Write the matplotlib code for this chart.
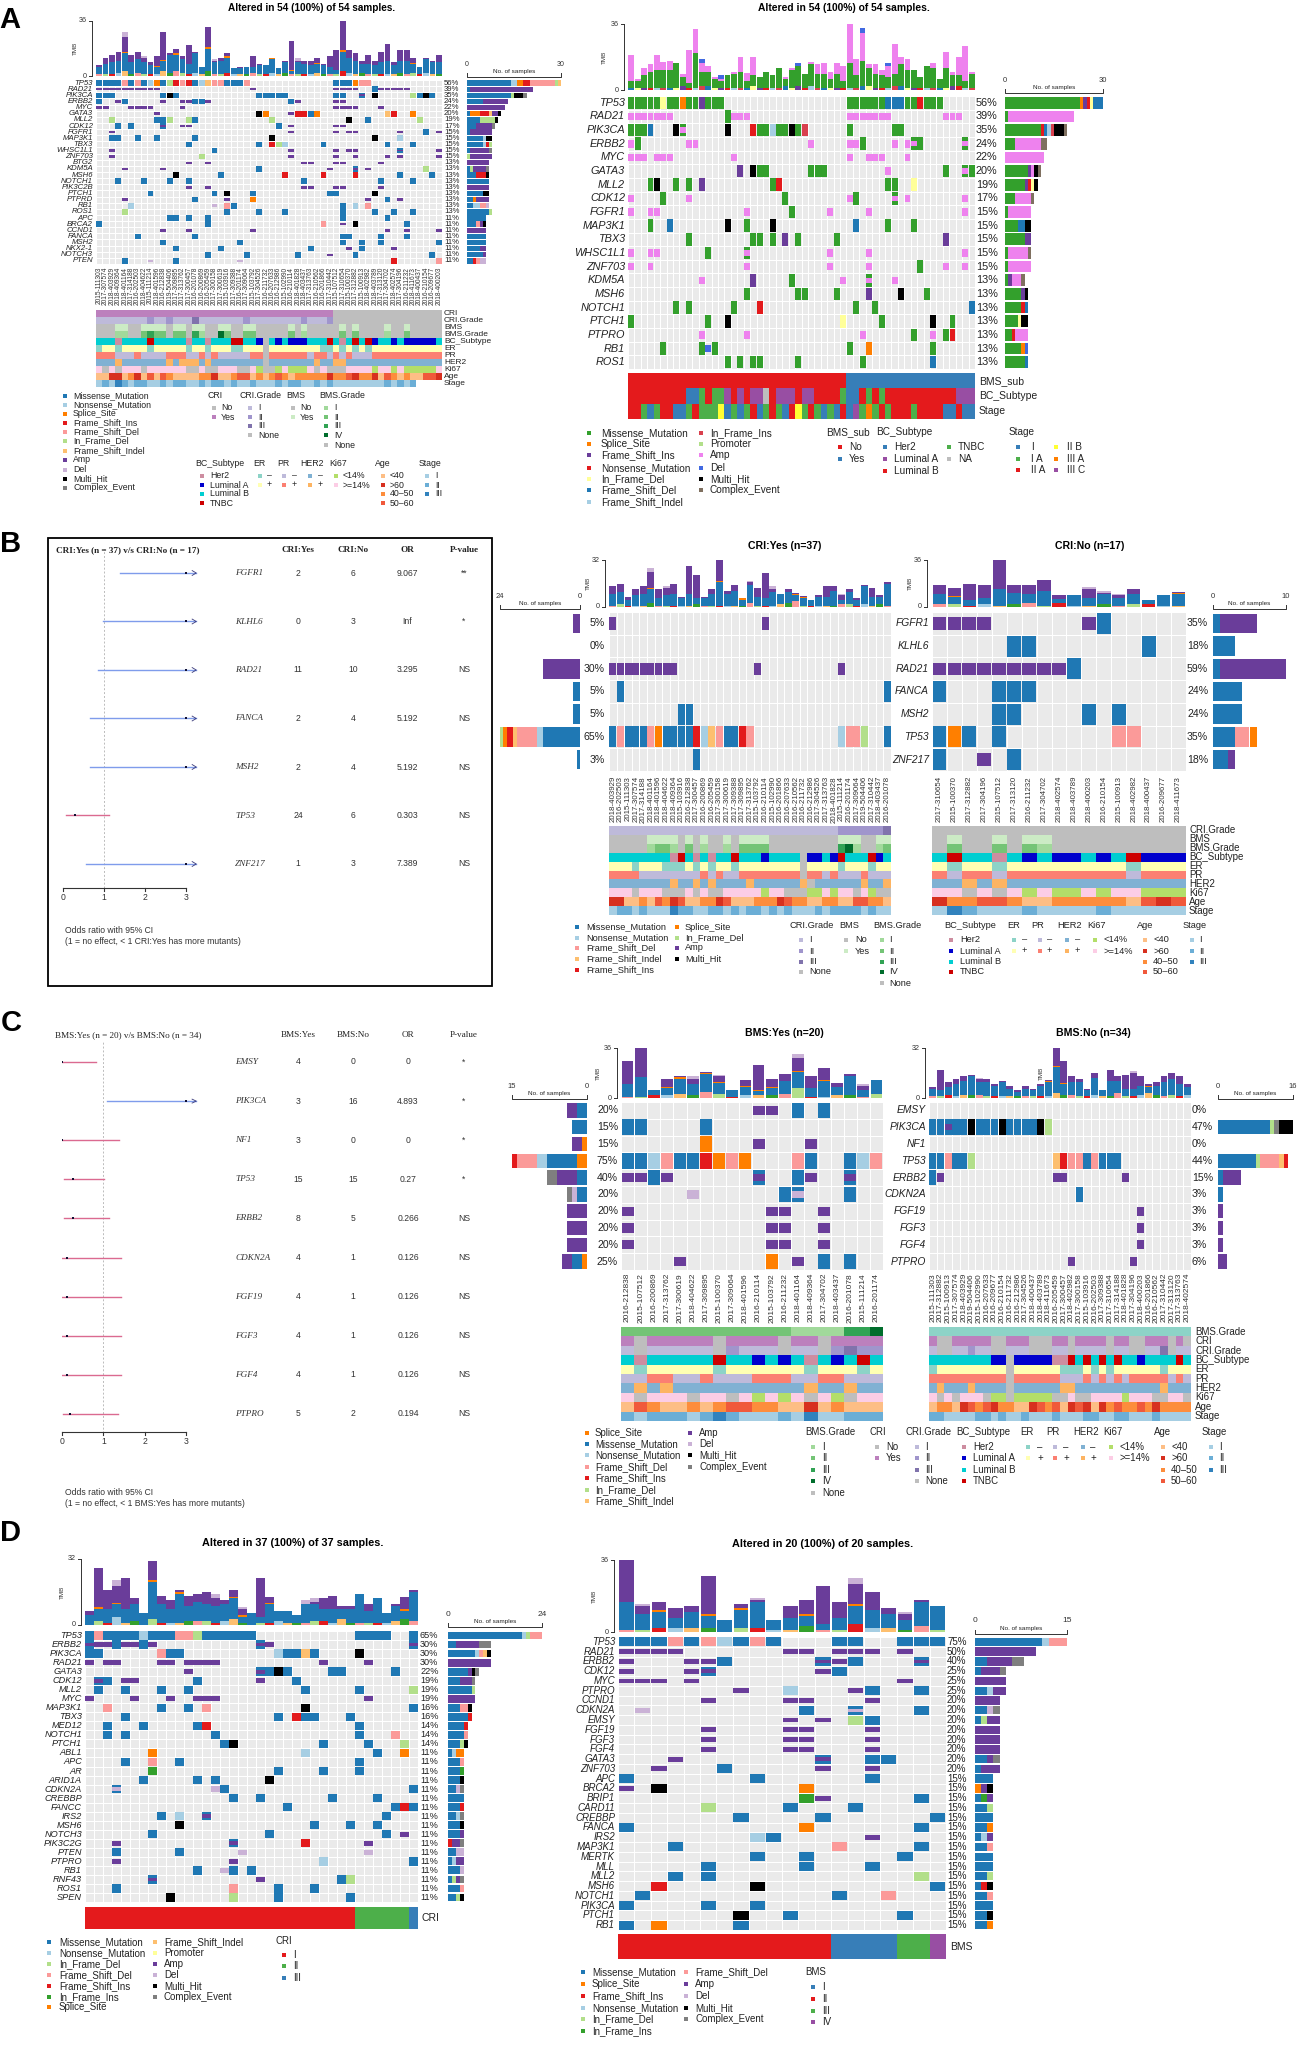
import re
import matplotlib
matplotlib.use('Agg')
import matplotlib.pyplot as plt
import numpy as np
from matplotlib.colors import ListedColormap
from matplotlib.patches import Rectangle

W, H = 1300, 2060
plt.rcParams['font.family'] = ['Liberation Sans', 'DejaVu Sans']

# ---------- palettes ----------
PAL = dict(m='#1F78B4', n='#A6CEE3', s='#FF7F00', i='#E31A1C', d='#FB9A99', f='#B2DF8A', x='#FDBF6F',
           a='#6A3D9A', e='#CAB2D6', h='#000000', c='#7F7F7F', g='#33A02C', p='#FFFF99')
PAL2 = dict(m='#33A02C', s='#FF7F00', i='#6A3D9A', n='#E31A1C', f='#FFFF99', d='#1F78B4', x='#A6CEE3',
            g='#D9404E', p='#B2DF8A', a='#EE82EE', e='#4169E1', h='#000000', c='#7F7060')
LBL = dict(m='Missense_Mutation', n='Nonsense_Mutation', s='Splice_Site', i='Frame_Shift_Ins', d='Frame_Shift_Del',
           f='In_Frame_Del', x='Frame_Shift_Indel', a='Amp', e='Del', h='Multi_Hit', c='Complex_Event',
           g='In_Frame_Ins', p='Promoter')
GREY = '#BEBEBE'
ANN = {
    'CRI': dict(Y='#BC80BD', N=GREY),
    'CRI.Grade': dict(a='#BEBADA', b='#A095CC', c='#8073AC', n=GREY),
    'BMS': dict(y='#CCEBC5', n=GREY),
    'BMS.Grade': dict(a='#A1D99B', b='#74C476', c='#31A354', d='#006D2C', n=GREY, q='#8DD3C7'),
    'BC_Subtype': dict(h='#CD8DA0', a='#0000CD', l='#00CED1', t='#CD0000', n=GREY),
    'ER': dict(m='#8DD3C7', p='#FFFFB3', n=GREY),
    'PR': dict(m='#BEBADA', p='#FB8072', n=GREY),
    'HER2': dict(m='#80B1D3', p='#FDB462', n=GREY),
    'Ki67': dict(l='#B3DE69', h='#FCCDE5', n=GREY),
    'Age': dict(y='#FDBE85', o='#FD8D3C', f='#F0593B', r='#D7301F'),
    'Stage': dict(a='#A6CEE3', b='#6BAED6', c='#3182BD'),
}
S3 = dict(r='#E41A1C', b='#377EB8', g='#4DAF4A', p='#984EA3', y='#FFFF33', o='#FF7F00', e='#BDBDBD')

# ---------- A left ----------
A1_genes = ['TP53','RAD21','PIK3CA','ERBB2','MYC','GATA3','MLL2','CDK12','FGFR1','MAP3K1','TBX3','WHSC1L1','ZNF703','BTG2','KDM5A','MSH6','NOTCH1','PIK3C2B','PTCH1','PTPRD','RB1','ROS1','APC','BRCA2','CCND1','FANCA','MSH2','NKX2-1','NOTCH3','PTEN']
A1_pct = [56,39,35,24,22,20,19,17,15,15,15,15,15,13,13,13,13,13,13,13,13,13,11,11,11,11,11,11,11,11]
A1_rows = ['m0-3 d4 m5 d6 m7 n8 s9 m10 f11 i12 d13 i14 m15 n16 x17 d18-19 m20-22 d23 m37-39 s40 d41-42',
 'a0-9 a24 a37-40 m43 a44-48','m0-2 m10 h11 m12 m25-29 m37-38 A41 h43 f49 m50 h51 m52',
 'm0 a3 m4 a10 a13-14 m15-16 a17 m30 a31 a37-38','a0-1 a5-8 a13 a37-40 a44',
 'a9 h25 s26 a30 i31-32 m33 s34 x45 i46 s49','f2 m9-10 f11 f14 m15 f27 h39 m42 f50','m3 m5 A10 a13-14 m28 a30 a37-38',
 'a2 a30 a37 a39-40 a47 m51 a53','m2-3 m6 m9 m15 h27 h43 n47','m14 m25 i27 f28 n29 m35 m45 m49',
 'a2 m18 a30 a37 a39-40 A47 a53','a2 f16 a30 a37 a40 a45 a47 a53','a14 a17 a32-33 a37-38 a44',
 'a4 a10 m25 a36 A40 a42 f51','h12 m19 i29 i35 i40 m47 m52','m3 m7 m11 m14 m32 m44 m49','a14 a17 a32-33 a37-38 a44',
 'm8 m18 h20 m24 m36-37 h43','a4 m15 a20 s24 a42 m45 a47','n5 e18 d20 m21 m38 n40 d42','f4 m20 m25 m29 m38 m43 m46 m49',
 'm11-12 m14 m17 m38 m45','m0 m17 d35 a38 h40 m48','a10 a14 a24 a45 a48 a53','m6 m15 m38-39 m44 m48','m10 m22 m38 m41 m44 m53',
 'm12 m19 m33 a39 m41 a46','m17 m23 m31 a36 m40 m52','m4 e8 m12 e22 i46 d53']
A1_low = [1,1,1,2,3,1,2,1,1,1,3,2,3,2,1,2,1,3,1,1,2,1,1,1,2,1,1,2,1,2,1,1,1,1,2,1,1,1,3,2,1,2,1,1,1,1,1,2,1,2,1,2,1,1]
A1_mis = [5,7,8,8,12,8,9,8,6,5,7,12,11,9,7,13,5,15,8,9,10,4,4,5,4,6,6,9,4,7,2,8,7,6,6,6,5,3,13,10,9,6,7,6,8,9,6,8,9,6,5,9,8,8]
A1_amp = [1,4,5,6,10,5,5,3,2,6,18,1,3,2,12,1,0,13,1,2,2,0,1,0,7,1,0,0,0,1,19,1,2,3,3,1,7,13,23,5,5,2,6,3,7,11,2,7,7,3,0,1,1,5]
A1_del = [0,0,0,0,3,0,0,1,0,0,0,0,0,0,0,0,0,0,1,0,0,0,0,0,0,0,0,0,0,0,0,2,0,0,0,0,0,0,0,0,0,0,0,0,0,0,0,0,0,0,0,0,0,0]
A1_spl = [4,9,10,12,17,20,27,30,34,38,49]
A1_ids = ['2015-111303','2017-307574','2018-403929','2018-409364','2018-401164','2017-314188','2016-202503','2018-404622','2015-111214','2018-401596','2016-212838','2019-504406','2017-309895','2017-313762','2017-300457','2016-201078','2016-200869','2016-205459','2017-300158','2017-300619','2015-103916','2017-309388','2016-201174','2017-309064','2015-103792','2017-304526','2016-211732','2016-207633','2016-212986','2015-102990','2016-210114','2018-401828','2018-403437','2017-313763','2016-210562','2016-201866','2017-310442','2015-107512','2017-310654','2015-100370','2017-312882','2015-100913','2018-402982','2018-403789','2017-313120','2017-304702','2018-402574','2017-304196','2016-211232','2018-411673','2018-400437','2016-210154','2016-209677','2018-400203']
A1_ann = [('CRI','Y37 N17'),('CRI.Grade','a8 b1 a2 b1 a3 c1 a7 b1 a8 b1 a3 b1 n17'),
 ('BMS','n3 y2 n2 y4 n1 y2 n1 y2 n2 y2 n2 y2 n5 y1 n1 y1 n5 y1 n1 y1 n4 y1 n2 y1 n5'),
 ('BMS.Grade','n3 a2 n2 b1 c1 b2 n1 b2 n1 c1 a1 n2 d1 b1 n2 b2 n5 b1 n1 a1 n5 b1 n1 b1 n4 a1 n2 b1 n5'),
 ('BC_Subtype','l3 h1 l4 t1 l5 h1 l2 h1 l3 t2 l2 a1 n1 l1 a1 l1 a3 l3 t1 l1 h1 l1 t1 l1 t1 a1 l2 a1 l1 a5 l1'),
 ('ER','m1 p2 m1 p4 m1 p5 m1 p2 m1 p3 m2 p3 n1 p8 m2 p1 m1 p1 m1 p1 m1 p11'),
 ('PR','p3 m3 p1 m4 p3 m2 p1 m1 p1 m5 p2 n1 p6 m1 p2 m1 p1 m1 p1 m3 p11'),
 ('HER2','m3 p1 m7 p1 m1 p3 m1 p1 m8 n1 m7 p1 m2 p2 m15'),
 ('Ki67','h1 n1 h1 n1 h3 n1 h6 n2 h1 n2 h3 n2 h1 l1 n2 l1 h1 l3 h1 n1 h1 n3 h4 l1 h2 l1 h1 l5 h1'),
 ('Age','y2 r2 y1 o1 r1 y1 f1 y1 f1 o1 y4 o2 r1 y2 o1 f2 y1 o1 y1 o1 f1 o1 y1 o5 r1 o2 f1 r1 o2 r1 y1 f1 o1 y1 o1 y2 f2 r1'),
 ('Stage','a1 b1 a1 c1 b1 a1 b2 a2 b1 a1 b2 a2 b1 a1 b2 a1 b1 a2 b1 a3 b1 a1 b2 a2 b1 a1 b1 a8 b1 a1 b1 a1 b1')]

# ---------- A right ----------
A2_genes = ['TP53','RAD21','PIK3CA','ERBB2','MYC','GATA3','MLL2','CDK12','FGFR1','MAP3K1','TBX3','WHSC1L1','ZNF703','KDM5A','MSH6','NOTCH1','PTCH1','PTPRO','RB1','ROS1']
A2_pct = [56,39,35,24,22,20,19,17,15,15,15,15,15,13,13,13,13,13,13,13]
A2_rows = ['m0-4 f5 m6-7 s8 m9-10 i11 m12-14 m34-39 d40-42 m43-44 n45 m46-48','a0-6 m15 a16-18 a34-40 a49-51',
 'm0-2 d3 h7 A8 h15 n19 m20-21 x22 m23-24 h25 m26 g27 m34 m41-42','a0 m1 a9-10 a28 a34-35 m36 a41 a43 A44 m45 A52',
 'a0-2 a4-6 a16 a34 a37-39 a43','i17 h19 m20-21 m28-30 a40 m49 A52 m53','m3 h4 m7 m9 i11 m22 n23 m40-41 f44',
 'a0 m5 a9 m24 a34 m35 A41 a43 a52','a0 a3-4 a18 m25 a31 a37 a52','m3 d6 h15 m18 h22 d35 m40 m44','m9 m19-20 m22 i24 m26 m32 i49',
 'a0 a3-4 m12 A18 a31 a37 a52','a0 a3 a18 a31 a37 m45 a49 a52','a11 i19 m25 a33 A37 a41','m18 m26-27 m32 i37 h42 m46',
 'm7 m9 m16 n20 m35 m38 d53','m0 m12 h15 f33 m39 h47 m50','a11 a18 a36 m44 a47 m49 n50','m5 m11 e12 m13 m34 s37 m47','m15 m17 m19-20 m26 m36 d47']
A2_low = [1,1,1,1,1,1,1,1,2,1,1,2,2,1,1,1,1,1,1,2,1,1,1,1,2,1,2,1,2,1,1,1,1,1,1,1,2,2,1,1,1,2,2,1,1,1,1,1,1,1,2,2,1,1]
A2_mis = [4,4,7,9,10,10,10,14,5,3,19,8,8,5,4,7,8,9,4,6,6,9,7,11,4,10,11,8,12,8,8,5,8,4,14,7,14,10,8,7,6,7,12,10,10,6,12,11,5,11,6,6,4,8]
A2_amp = [14,1,4,4,8,4,5,0,2,18,13,5,3,1,1,0,1,8,4,10,0,0,0,0,1,1,0,0,1,5,6,4,6,8,22,9,15,2,5,3,6,16,4,6,0,0,0,3,0,9,2,10,19,1]
A2_del = [0,0,0,0,0,0,0,0,0,0,0,2,0,0,2,0,0,0,0,0,0,0,0,0,0,0,2,0,0,0,0,0,0,0,0,0,3,0,0,0,2,0,0,0,0,0,0,0,0,0,0,0,0,0]
A2_ann = [('BMS_sub','r34 b20'),
 ('BC_Subtype','r9 b2 g1 r1 g2 p1 r1 p1 r1 p2 e1 r1 p3 r1 p2 r4 g1 b2 r1 g1 r1 g1 r11 p3'),
 ('Stage','r2 g1 b1 g1 r2 b2 g1 r1 g3 y1 b1 g1 b1 g1 r1 b1 g1 r1 g1 b1 r1 y1 g1 r1 g1 b1 g1 b1 r1 b1 p1 g1 o1 g1 r1 g1 r3 g1 r4 b2 r1 b2')]

# ---------- B ----------
B1_genes = ['FGFR1','KLHL6','RAD21','FANCA','MSH2','TP53','ZNF217']
B_pct1 = [5,0,30,5,5,65,3]
B_pct2 = [35,18,59,24,24,35,18]
B1_rows = ['a0 a20','','a0-8 a19 a30','m1 m36','m9-10','m0 d1 m2-4 d5 s6 m7-10 i11 n12 x13 d14 m15-16 i17 d18 n30 d31-32 f33 m36','m11']
B2_rows = ['a0-3 a10 m11','m5-6 m14','a0-8 m9','m0 m4-6','m4-5 m10 m12','m0 s1 m2 m4 d12-13','m0 a3 m5']
B1_low = [1,2,1,1,1,3,1,1,1,1,1,2,1,1,1,1,1,1,3,1,1,1,2,3,4,1,1,1,1,1,2,2,1,2,1,2,1]
B1_mis = [8,8,4,7,8,9,5,7,8,5,8,4,5,8,16,8,10,4,12,6,5,9,7,7,4,5,4,6,6,10,3,8,4,12,6,5,15]
B1_amp = [5,6,2,4,5,11,6,5,7,1,19,16,1,3,14,2,4,0,2,6,17,2,0,2,1,1,0,1,7,3,3,2,1,1,6,1,1]
B1_del = [0,0,0,0,0,3,0,1,0,0,0,0,0,0,0,0,0,0,1,0,0,2,0,0,0,0,0,0,0,0,1,0,0,0,0,0,0]
B1_spl = [5,14,17,24,25]
B1_ids = ['2018-403929','2016-202503','2015-111303','2017-307574','2017-314188','2018-401164','2018-401596','2018-404622','2018-409364','2015-103916','2016-212838','2017-300457','2016-200869','2016-205459','2017-300158','2017-300619','2017-309388','2017-309895','2017-313762','2015-103792','2016-210114','2015-102990','2016-201866','2016-207633','2016-210562','2016-211732','2016-212986','2017-304526','2017-313763','2018-401828','2015-111214','2016-201174','2017-309064','2019-504406','2017-310442','2018-403437','2016-201078']
B2_low = [2,2,1,2,1,2,3,1,3,1,1,2,1,2,2,1,1]
B2_mis = [8,6,4,5,13,9,7,11,3,8,6,8,6,8,3,8,9]
B2_amp = [7,6,13,10,22,6,7,9,3,0,7,1,2,4,0,0,1]
B2_del = [0,0,0,0,0,0,0,0,0,0,1,1,1,0,0,0,0]
B2_spl = [1,16]
B2_ids = ['2017-310654','2015-100370','2017-312882','2017-304196','2015-107512','2017-313120','2016-211232','2017-304702','2018-402574','2018-403789','2018-400203','2016-210154','2015-100913','2018-402982','2018-400437','2016-209677','2018-411673']
B1_ann = [('CRI.Grade','a30 b6 c1'),('BMS','n5 y4 n1 y1 n1 y1 n2 y1 n1 y4 n9 y3 n2 y2'),
 ('BMS.Grade','n5 a1 b2 a1 n1 b1 n1 a1 n2 a1 n1 b4 n9 c1 d1 a1 n2 a1 b1'),
 ('BC_Subtype','l8 h1 t1 l1 h1 l1 h1 l2 t1 l3 a1 l4 n1 a2 l1 a1 t1 l3 t1 a1 l1'),
 ('ER','p3 m1 p3 m3 p1 m1 p1 m1 p2 m1 p5 p3 n1 p4 m1 p3 m1 p2'),
 ('PR','p4 m8 p1 m1 p1 m1 m1 p8 n1 p2 m1 p1 m3 p1 m3'),('HER2','m8 p1 m2 p1 m1 p1 m4 p1 m6 p1 n1 m6 p1 m2 p1'),
 ('Ki67','h3 n1 h3 n3 h1 n1 h1 n2 h5 l1 h2 n3 l2 h1 l1 h2 n1 h1 l1 n2'),
 ('Age','r2 y2 o1 y1 f1 o1 r1 f1 y2 o2 r1 f1 y1 y2 o3 r1 f1 o2 y2 o2 y2 f2 o2 y1'),
 ('Stage','a1 b2 a1 b1 a3 c1 b2 a2 b2 a1 b1 a1 b2 a1 b1 a1 b1 a3 b1 a1 b4 a1 b1 a2')]
B2_ann = [('CRI.Grade','n17'),('BMS','n1 y1 n2 y1 n1 y2 n9'),('BMS.Grade','n1 b1 n2 b1 n1 b1 a1 n9'),
 ('BC_Subtype','l1 t1 l2 h1 l1 a1 l1 a2 l1 a1 l1 t1 a3'),('ER','p1 m1 p2 m1 p8 m1 p3'),('PR','p1 m1 p2 m1 p8 m1 p3'),
 ('HER2','m2 p1 m1 p1 m12'),('Ki67','h2 n1 h1 n1 h1 l1 h1 l2 h1 l1 h2 l3'),('Age','r1 o2 f2 o1 y2 o5 y1 f1 r1 f1'),
 ('Stage','a1 c1 b1 a3 b1 a4 b1 a5')]
F1_genes = ['FGFR1','KLHL6','RAD21','FANCA','MSH2','TP53','ZNF217']
F1_a = ['2','0','11','2','2','24','1']
F1_b = ['6','3','10','4','4','6','3']
F1_or = ['9.067','Inf','3.295','5.192','5.192','0.303','7.389']
F1_p = ['**','*','NS','NS','NS','NS','NS']
F1_val = [3,3,3,3,3,0.303,3]
F1_lo = [1.39,0.97,0.86,0.67,0.67,0.07,0.55]
F1_hi = [3.25,3.25,3.25,3.25,3.25,1.13,3.25]

# ---------- C ----------
C_genes = ['EMSY','PIK3CA','NF1','TP53','ERBB2','CDKN2A','FGF19','FGF3','FGF4','PTPRO']
C_pct1 = [20,15,15,75,40,20,20,20,20,25]
C_pct2 = [0,47,0,44,15,3,3,3,3,6]
C1_rows = ['a10-11 m13 m15','m0-1 m6','s6 a10 a14','m0-1 n2 d3 m4-5 i6 s7 d8 s9 d13 m14 m17 n18 d19','a0-1 m2 a3 A10 m13 a14 A17',
 'e5 m12 D13 m17','a0 a11-12 a15','a0 a11-12 a15','a0 a11-12 a15','a4 s11 a13 m15 m17']
C2_rows = ['','m0-1 A2 m3-4 h5 m6-8 h9 m10-13 h14 f15','','m0-1 d2 m3-4 f5 x16 i17 d18-19 m20 d21 m22-24','m0 a1 a16-17 a25','m19','a27','a27','a27','a18 a26']
C1_low = [1,1,2,2,3,2,4,3,1,2,2,2,3,7,1,1,2,2,1,3]
C1_mis = [9,14,4,5,11,8,13,8,5,6,3,5,9,12,6,11,6,14,5,10]
C1_amp = [17,21,0,6,1,4,1,4,0,4,18,6,5,9,9,9,3,1,3,0]
C1_del = [0,0,0,0,0,2,0,1,0,0,0,0,0,3,0,0,0,0,1,0]
C1_spl = [3,4,6,7,9,10,11,13,15]
C1_ids = ['2016-212838','2015-107512','2016-200869','2017-313762','2017-300619','2018-404622','2017-309895','2015-100370','2017-309064','2018-401596','2016-210114','2015-103792','2016-211232','2018-401164','2018-409364','2017-304702','2018-403437','2016-201078','2015-111214','2016-201174']
C2_low = [1,1,2,1,2,2,2,1,1,1,1,1,1,1,1,1,3,2,2,1,1,2,1,1,3,1,1,2,3,2,1,2,1,2]
C2_mis = [5,4,5,8,9,12,8,9,7,9,5,3,5,4,7,9,17,7,8,9,4,11,4,10,8,5,5,6,4,6,9,10,8,5]
C2_amp = [1,13,3,3,3,1,2,2,1,1,2,1,2,1,1,1,11,14,4,2,1,3,0,7,3,9,10,6,1,2,4,4,5,2]
C2_del = [0,0,0,0,0,0,1,0,0,0,0,0,0,0,0,0,1,0,0,0,0,0,0,0,0,0,1,0,0,0,0,0,0,0]
C2_spl = [15,16,17,28]
C2_ids = ['2015-111303','2017-312882','2015-100913','2017-307574','2018-403929','2019-504406','2015-102990','2016-207633','2016-209677','2016-210154','2016-211732','2016-212986','2017-304526','2018-400437','2018-403789','2018-411673','2016-205459','2017-300457','2018-402982','2017-300158','2015-103916','2016-202503','2017-309388','2017-310654','2017-314188','2018-401828','2017-304196','2018-400203','2016-201866','2016-210562','2017-310442','2017-313120','2017-313763','2018-402574']
C1_ann = [('BMS.Grade','b13 a4 c2 d1'),('CRI','Y1 N1 Y5 N1 Y4 N1 Y2 N1 Y4'),('CRI.Grade','a1 n1 a5 n1 b1 a3 n1 a2 n1 b1 c1 b2'),
 ('BC_Subtype','l1 h1 l5 t1 l2 a1 l1 a1 l1 h1 l1 a1 l1 t1 l1'),('ER','p1 m1 p5 m1 p6 m1 p3 m1 p1'),('PR','m2 p2 m2 p1 m3 p3 m2 p2 m3'),
 ('HER2','m1 p1 m1 p1 m10 p1 m2 p1 m2'),('Ki67','h1 n1 h3 n1 h2 n1 h1 l1 h1 l1 h1 n1 h1 l1 n1 h2'),
 ('Age','y1 f1 o1 y2 o1 y1 o1 f2 o2 y2 r1 y1 o1 y3'),('Stage','b1 a1 b3 a1 b1 c1 b1 a3 b1 a1 c1 a2 b3')]
C2_ann = [('BMS.Grade','q34'),('CRI','Y1 N2 Y5 N2 Y3 N3 Y2 N1 Y4 N1 Y2 N2 Y3 N1 Y1 N1 Y1'),
 ('CRI.Grade','a1 n2 a2 b1 a2 n2 a3 n3 a2 n1 a4 n1 a2 n2 a2 c1 n1 a1 a1'),
 ('BC_Subtype','l8 a2 n1 a5 h2 t1 l1 t1 l1 t1 l1 t1 l2 a1 l4 t1 l1 a1'),('ER','m1 p9 n1 p6 m3 p1 m1 p1 m1 p6 m1 p1 p2'),
 ('PR','p10 n1 p6 m3 p1 m1 p1 m1 p1 m1 p5 m1 p1 m1'),('HER2','m1 p1 m3 p1 m4 n1 m6 p2 m11 p1 m3'),
 ('Ki67','h1 n1 h1 n1 h3 n1 l2 n1 l5 n2 h1 n2 h4 l1 h3 n2 h2 n1'),
 ('Age','y1 o2 y1 r1 f1 o1 f1 r1 o2 y2 r1 f1 o1 f1 y1 r1 f1 r1 y1 r1 o1 f1 o2 f1 o1 r1 o5'),
 ('Stage','b2 a4 b2 a1 b1 a2 b1 a3 b1 a3 b2 a2 b2 a3 b1 a4')]
F2_a = ['4','3','3','15','8','4','4','4','4','5']
F2_b = ['0','16','0','15','5','1','1','1','1','2']
F2_or = ['0','4.893','0','0.27','0.266','0.126','0.126','0.126','0.126','0.194']
F2_p = ['*','*','*','*','NS','NS','NS','NS','NS','NS']
F2_val = [0,3,0,0.27,0.266,0.126,0.126,0.126,0.126,0.194]
F2_lo = [0,1.1,0,0.05,0.05,0,0,0,0,0.02]
F2_hi = [0.83,3.25,1.38,1.02,1.15,1.42,1.42,1.42,1.42,1.35]

# ---------- D ----------
D1_genes = ['TP53','ERBB2','PIK3CA','RAD21','GATA3','CDK12','MLL2','MYC','MAP3K1','TBX3','MED12','NOTCH1','PTCH1','ABL1','APC','AR','ARID1A','CDKN2A','CREBBP','FANCC','IRS2','MSH6','NOTCH3','PIK3C2G','PTEN','PTPRO','RB1','RNF43','ROS1','SPEN']
D1_pct = [65,30,30,30,22,19,19,19,16,16,14,14,14,11,11,11,11,11,11,11,11,11,11,11,11,11,11,11,11,11]
D1_rows = ['m0 d1 m2-5 n6 m7-9 d10-11 f12 m13-18 m30-33 m36','A0 a1-2 m3 a4-5 m6 a7 A19 a20 A36','m0-1 d8 m9-10 n21 m22-23 x24 m25 h30',
 'a0 a2-3 a8-9 a11-14 a26 a31','a11 A19 m20 h21 m22 m27-28 m34','A1 m2 a4-5 m12 a19 m23','m1 m4 m8 m11 m24 m30 f36','a0 a5 a9 a12-14 a31',
 'd2 m8 m11 d13 h24 m36','m4 m21 i23 m24-25 m29','m2 m6 m12 i13 m30','m2 m4 m14 m30 d34','m15 h16 m26 m31 f35','s7 n24 m32 s35','m4 d7 m10 m30',
 'g7 m21 m26 m30','m6 m12 m14 h20','D3 e14 m15 m36','m16 m19 m27 m32','m22 m34 i35 m36','m8 n10 A13 m33','h10 m25 m29 m32','m7 m20 m33 a35',
 'a3 A16 i24 a31','m3 m10 e17 e31','a3 a16 n26 m36','m12 e15 m16 m18','A7 a19 m28 f29','m3 d16 m21 m25','h9 f16 m21 m29']
D1_low = [0,2,1,4,1,2,0,3,1,1,1,2,2,2,1,2,3,1,0,1,1,2,1,1,1,2,2,1,3,1,1,1,1,1,2,3,2]
D1_mis = [5,6,7,6,7,8,6,18,9,7,14,7,9,8,8,8,10,3,6,3,9,5,6,4,9,8,6,7,5,7,14,6,12,5,7,4,14]
D1_amp = [2,19,9,8,15,3,0,9,4,4,1,5,4,6,4,2,3,3,0,19,3,0,0,0,0,1,5,6,1,1,0,3,0,0,1,6,1]
D1_del = [0,0,0,3,0,0,0,0,0,0,0,0,0,0,2,0,0,1,0,0,0,0,0,0,2,2,0,0,0,0,0,0,0,0,0,0,0]
D1_spl = [1,3,7,10,16,17,20,35]
D1_ann = [('CRI','r30 g6 b1')]
D2_genes = ['TP53','RAD21','ERBB2','CDK12','MYC','PTPRO','CCND1','CDKN2A','EMSY','FGF19','FGF3','FGF4','GATA3','ZNF703','APC','BRCA2','BRIP1','CARD11','CREBBP','FANCA','IRS2','MAP3K1','MERTK','MLL','MLL2','MSH6','NOTCH1','PIK3CA','PTCH1','RB1']
D2_pct = [75,50,40,25,25,25,20,20,20,20,20,20,20,20,15,15,15,15,15,15,15,15,15,15,15,15,15,15,15,15]
D2_rows = ['m0-2 d3 m4 d5 n6 m7 d8 m9 m13-14 m17-19','a0-3 a10-11 a13-15 a17','a0 a4-5 m6 A12 a13 m14 A18','a0 a4 A5 a12 m13','a0-2 a4 a17',
 'a7 n10 a14 m15 m18','a5 a10-11 a15','e1 m11 D14 m18','a10 a12 f14 m15','a5 a10-11 a15','a5 a10-11 a15','a5 a10-11 a15','a3 A12 m15-16','a2 m6 a12 a15',
 'm0 m8 m15','a0 h2 s11','g11 a12 m18','f5 m10 m14','m7 m12 m19','m0 s11 m18','n8 m9 a15','m3 d13 m18','m8 m11 m17','m5 m11 m15','m3 m5 f18','i2 h8 m19',
 'm1 m13 d16','m0 m5 m8','h7 m10 m17','m0 s2 m7']
D2_low = [1,1,2,2,2,2,0,2,2,1,1,3,1,1,4,2,2,1,3,1]
D2_mis = [14,8,8,5,8,6,6,9,13,5,6,5,3,6,9,9,7,5,12,12]
D2_amp = [22,4,4,5,3,19,0,2,1,0,6,7,19,8,10,9,3,3,1,0]
D2_del = [0,1,0,0,0,0,0,0,1,0,0,0,0,0,3,0,0,1,0,0]
D2_spl = [2,5,7,11,14]
D2_ann = [('BMS','r13 b4 g2 p1')]

# ---------- helpers ----------
fig = plt.figure(figsize=(W/100, H/100), dpi=100, facecolor='white')
ov = fig.add_axes([0, 0, 1, 1], zorder=10)
ov.set_xlim(0, W); ov.set_ylim(H, 0); ov.axis('off'); ov.patch.set_alpha(0)

def pax(x0, y0, x1, y1):
    return fig.add_axes([x0/W, 1-y1/H, (x1-x0)/W, (y1-y0)/H])

def T(x, y, s, fs=7, ha='left', va='center', **kw):
    ov.text(x, y, s, fontsize=fs, ha=ha, va=va, **kw)

def parse(row):
    return [(m.group(1), int(m.group(2)), int(m.group(3) or m.group(2)))
            for m in re.finditer(r'([A-Za-z])(\d+)(?:-(\d+))?', row)]

def runs(row):
    pos = 0
    for tok in row.split():
        k, w = tok[0], int(tok[1:])
        yield k, pos, w
        pos += w

def tmb(rect, maxv, low, mis, amp, dele, spl, pal, ax_x, lab_x=None):
    ax = pax(*rect)
    x = np.arange(len(mis)) + .5
    low_cols = [pal[k] for k in 'dfinxg']
    bot = np.zeros(len(mis))
    ax.bar(x, low, .9, bottom=bot, color=[low_cols[i % 6] for i in range(len(mis))], lw=0)
    bot += np.array(low, float)
    ax.bar(x, mis, .9, bottom=bot, color=pal['m'], lw=0)
    bot += np.array(mis, float)
    sv = np.array([0.8 if i in spl else 0 for i in range(len(mis))])
    ax.bar(x, sv, .9, bottom=bot, color=pal['s'], lw=0)
    bot += sv
    ax.bar(x, amp, .9, bottom=bot, color=pal['a'], lw=0)
    bot += np.array(amp, float)
    ax.bar(x, dele, .9, bottom=bot, color=pal['e'], lw=0)
    ax.set_xlim(0, len(mis)); ax.set_ylim(0, maxv); ax.axis('off')
    y0, y1 = rect[1], rect[3]
    ov.plot([ax_x, ax_x], [y0, y1], color='#333333', lw=.7)
    for yy in (y0, y1):
        ov.plot([ax_x-3, ax_x], [yy, yy], color='#333333', lw=.7)
    T(ax_x-5, y0, str(maxv), 5.2, ha='right', color='#333333')
    T(ax_x-5, y1, '0', 5.2, ha='right', color='#333333')
    T(lab_x if lab_x else ax_x-16, (y0+y1)/2, 'TMB', 4.5, ha='center', rotation=90, color='#333333')

def matrix(rect, n, rows, pal, amp_h=.55):
    ax = pax(*rect)
    nr = len(rows)
    ax.pcolormesh(np.arange(n+1), np.arange(nr+1), np.zeros((nr, n)), cmap=ListedColormap(['#EAEAEA']),
                  edgecolors='white', linewidth=.6)
    for r, row in enumerate(rows):
        for k, a, b in parse(row):
            xs = np.arange(a, b+1) + .5
            if k in 'AD':
                ax.bar(xs, .92, .92, bottom=r+.04, color=pal['m'], lw=0)
                ax.bar(xs, amp_h*.7, .92, bottom=r+.5-amp_h*.35, color=pal['a' if k == 'A' else 'e'], lw=0)
            elif k in 'ae':
                ax.bar(xs, amp_h, .92, bottom=r+.5-amp_h/2, color=pal[k], lw=0)
            else:
                ax.bar(xs, .92, .92, bottom=r+.04, color=pal[k], lw=0)
    ax.set_xlim(0, n); ax.set_ylim(nr, 0); ax.axis('off')

def side(rect, maxv, rows, pal, order, line_y, flip=False, fs=5.5):
    ax = pax(*rect)
    nr = len(rows)
    for r, row in enumerate(rows):
        cnt = {}
        for k, a, b in parse(row):
            key = 'c' if k in 'AD' else k
            cnt[key] = cnt.get(key, 0) + b - a + 1
        left = 0
        for k in order:
            if k in cnt:
                ax.barh(r+.5, cnt[k], .86, left=left, color=pal[k], lw=0)
                left += cnt[k]
    ax.set_xlim((maxv, 0) if flip else (0, maxv)); ax.set_ylim(nr, 0); ax.axis('off')
    x0, x1 = rect[0], rect[2]
    ov.plot([x0, x0, x1, x1], [line_y-4, line_y, line_y, line_y-4], color='#333333', lw=.7)
    T((x0+x1)/2, line_y-5.5, 'No. of samples', 4.6, ha='center', color='#222222')
    a, b = ('%d' % maxv, '0') if flip else ('0', '%d' % maxv)
    T(x0, line_y-13, a, fs, ha='center', color='#333333')
    T(x1, line_y-13, b, fs, ha='center', color='#333333')

def rowtext(rect, labels, x, fs, ha, italic=False):
    y0, y1 = rect[1], rect[3]
    dy = (y1-y0)/len(labels)
    for i, s in enumerate(labels):
        T(x, y0+(i+.5)*dy, s, fs, ha=ha, style='italic' if italic else 'normal', color='#222222')

def ids(rect, labels, y, fs):
    x0, x1 = rect[0], rect[2]
    dx = (x1-x0)/len(labels)
    for i, s in enumerate(labels):
        T(x0+(i+.5)*dx, y, s, fs, ha='center', va='top', rotation=90, color='#333333')

def annot(rect, n, rows, x_lab, fs, cmap=ANN):
    ax = pax(*rect)
    for r, (name, row) in enumerate(rows):
        for k, p, w in runs(row):
            ax.bar(p+w/2, 1, w, bottom=r, color=cmap[name][k], lw=0)
    ax.set_xlim(0, n); ax.set_ylim(len(rows), 0); ax.axis('off')
    if x_lab is None:
        return
    dy = (rect[3]-rect[1])/len(rows)
    for r, (name, _) in enumerate(rows):
        T(x_lab, rect[1]+(r+.5)*dy, name, fs, color='#222222')

def lg(title, tx, ty, mx, lx, ys, items, fs, ms=7):
    if title:
        T(tx, ty, title, fs, color='#222222')
    for y, (c, s) in zip(ys, items):
        ov.scatter([mx], [y], s=ms, marker='s', color=c, lw=0)
        T(lx, y, s, fs, color='#222222')

def muts(codes, pal=PAL):
    return [(pal[k], LBL[k]) for k in codes]

def lv(name, *pairs):
    return [(ANN[name][k], s) for k, s in pairs]

def forest(rect, genes, a, b, odds, p, val, lo, hi, y0, dy, yhead, head, cola, colb, ya, xg, xa, xb, xo, xp, axis_y, bold):
    k = rect[3]
    ax = pax(rect[0], y0-dy/2, rect[2], y0+dy*(len(genes)-.5))
    ax.set_xlim(0, (rect[2]-rect[0])/k); ax.set_ylim(len(genes)-.5, -.5); ax.axis('off')
    ax.axvline(1, color='#BBBBBB', ls=(0, (2, 2)), lw=.7)
    for i in range(len(genes)):
        c = '#7F9CEB' if val[i] >= 1 else '#DB6A90'
        ax.plot([lo[i], hi[i]], [i, i], color=c, lw=1.0)
        if hi[i] > 3:
            ax.plot([3.15, 3.25, 3.15], [i-.05, i, i+.05], color='#3A3A7A', lw=.6)
        ax.plot([val[i]], [i], 's', color='#111133', ms=1.8, mew=0)
    fkw = dict(family=['Liberation Serif', 'DejaVu Serif'])
    wt = 'bold' if bold else 'normal'
    T(ya, yhead, head, 6.6, weight=wt, color='#222222', **fkw)
    for x, s in ((xa, cola), (xb, colb), (xo, 'OR'), (xp, 'P-value')):
        T(x, yhead, s, 6.6, ha='center', weight=wt, color='#222222', **fkw)
    for i, g in enumerate(genes):
        y = y0+i*dy
        T(xg, y, g, 6.6, style='italic', color='#333333', **fkw)
        for x, s in ((xa, a[i]), (xb, b[i]), (xo, odds[i]), (xp, p[i])):
            T(x, y, s, 6.2, ha='center', color='#333333')
    x0 = rect[0]
    ov.plot([x0, x0+3*k], [axis_y, axis_y], color='#333333', lw=.8)
    for t in range(4):
        ov.plot([x0+t*k]*2, [axis_y, axis_y+3], color='#333333', lw=.8)
        T(x0+t*k, axis_y+10, str(t), 6.2, ha='center', color='#333333')

BCL = lv('BC_Subtype', ('h', 'Her2'), ('a', 'Luminal A'), ('l', 'Luminal B'), ('t', 'TNBC'))
ERL = lv('ER', ('m', '\u2013'), ('p', '+')); PRL = lv('PR', ('m', '\u2013'), ('p', '+')); HEL = lv('HER2', ('m', '\u2013'), ('p', '+'))
KIL = lv('Ki67', ('l', '<14%'), ('h', '>=14%'))
AGL = lv('Age', ('y', '<40'), ('r', '>60'), ('o', '40\u201350'), ('f', '50\u201360'))
STL = lv('Stage', ('a', 'I'), ('b', 'II'), ('c', 'III'))
CGL = lv('CRI.Grade', ('a', 'I'), ('b', 'II'), ('c', 'III'), ('n', 'None'))
BGL = lv('BMS.Grade', ('a', 'I'), ('b', 'II'), ('c', 'III'), ('d', 'IV'), ('n', 'None'))

def second_row(xs, ty, ys, fs):
    titles = ['BC_Subtype', 'ER', 'PR', 'HER2', 'Ki67', 'Age', 'Stage']
    items = [BCL, ERL, PRL, HEL, KIL, AGL, STL]
    for title, (t, m, l), it in zip(titles, xs, items):
        lg(title, t, ty, m, l, ys, it, fs)

# ---------- panel letters ----------
for s, x, y in (('A', 10, 20), ('B', 11, 544), ('C', 11, 1023), ('D', 11, 1533)):
    T(x, y, s, 21, ha='center', weight='bold', color='black')

# ---------- panel A left ----------
r = (96, 80, 442, 264)
T(312, 8, 'Altered in 54 (100%) of 54 samples.', 7.2, ha='center', weight='bold')
tmb((96, 21, 442, 76), 36, A1_low, A1_mis, A1_amp, A1_del, A1_spl, PAL, 92, 75)
matrix(r, 54, A1_rows, PAL, .42)
side((467, 80, 561, 264), 30, A1_rows, PAL, 'mnsidfxaehc', 77, fs=5)
rowtext(r, A1_genes, 93, 5.6, 'right', True)
rowtext(r, ['%d%%' % v for v in A1_pct], 444, 5.6, 'left')
ids(r, A1_ids, 267, 4.7)
annot((96, 310, 442, 387), 54, A1_ann, 444, 6)
F1 = 6.3
lg('', 0, 0, 65, 73, [396, 405, 414, 423, 432, 441, 451, 460, 470, 479, 488], muts('mnsidfxaehc'), F1)
Y4 = [408, 417, 426, 435, 445]
lg('CRI', 207, 396, 214, 221, Y4, lv('CRI', ('N', 'No'), ('Y', 'Yes')), F1)
lg('CRI.Grade', 240, 396, 250, 258, Y4, CGL, F1)
lg('BMS', 286, 396, 293, 300, Y4, lv('BMS', ('n', 'No'), ('y', 'Yes')), F1)
lg('BMS.Grade', 319, 396, 326, 334, Y4, BGL, F1)
second_row([(195, 202, 210), (253, 260, 267), (277, 284, 292), (300, 310, 318), (329, 336, 343), (375, 383, 390), (419, 427, 435)],
           464, [476, 485, 494, 503], F1)

# ---------- panel A right ----------
r = (628, 96, 975, 369)
T(844, 8, 'Altered in 54 (100%) of 54 samples.', 7.4, ha='center', weight='bold')
tmb((628, 24, 975, 90), 36, A2_low, A2_mis, A2_amp, A2_del, [], PAL2, 624, 604)
matrix(r, 54, A2_rows, PAL2, .55)
side((1005, 96, 1103, 369), 30, A2_rows, PAL2, 'msinfdxgpaehc', 93, fs=5.5)
rowtext(r, A2_genes, 625, 7.8, 'right', True)
rowtext(r, ['%d%%' % v for v in A2_pct], 976, 7.8, 'left')
annot((628, 373, 975, 419), 54, A2_ann, 979, 7.5, {'BMS_sub': S3, 'BC_Subtype': S3, 'Stage': S3})
F2 = 7.2
lg('', 0, 0, 589, 601, [433, 444, 455, 468, 479, 490, 502], muts('msinfdx', PAL2), F2)
lg('', 0, 0, 701, 710, [433, 444, 455, 468, 479, 490], muts('gpaehc', PAL2), F2)
lg('BMS_sub', 826, 432, 840, 849, [447, 459], [(S3['r'], 'No'), (S3['b'], 'Yes')], F2)
lg('BC_Subtype', 876, 432, 885, 894, [447, 459, 471], [(S3['b'], 'Her2'), (S3['p'], 'Luminal A'), (S3['r'], 'Luminal B')], F2)
lg('', 0, 0, 949, 958, [447, 459], [(S3['g'], 'TNBC'), (S3['e'], 'NA')], F2)
lg('Stage', 1009, 432, 1018, 1031, [447, 459, 470], [(S3['b'], 'I'), (S3['g'], 'I A'), (S3['r'], 'II A')], F2)
lg('', 0, 0, 1056, 1067, [447, 459, 470], [(S3['y'], 'II B'), (S3['o'], 'III A'), (S3['p'], 'III C')], F2)

# ---------- panel B ----------
ov.add_patch(Rectangle((48, 538), 444, 448, fill=False, ec='black', lw=1.3))
forest((63, 0, 200, 41), F1_genes, F1_a, F1_b, F1_or, F1_p, F1_val, F1_lo, F1_hi, 573, 48.5, 550,
       'CRI:Yes (n = 37) v/s CRI:No (n = 17)', 'CRI:Yes', 'CRI:No', 56, 235, 298, 353, 407, 464, 888, True)
T(65, 936, 'Odds ratio with 95% CI\n(1 = no effect, < 1 CRI:Yes has more mutants)', 6.2, va='center', color='#333333', linespacing=1.2)

ORDB = 'mndxisfah'
r1 = (609, 612, 891, 771); r2 = (932, 612, 1186, 771)
T(785, 546, 'CRI:Yes (n=37)', 7.6, ha='center', weight='bold')
T(1090, 546, 'CRI:No (n=17)', 7.6, ha='center', weight='bold')
tmb((609, 560, 891, 607), 32, B1_low, B1_mis, B1_amp, B1_del, B1_spl, PAL, 605, 588)
tmb((932, 560, 1186, 607), 36, B2_low, B2_mis, B2_amp, B2_del, B2_spl, PAL, 927, 910)
matrix(r1, 37, B1_rows, PAL); matrix(r2, 17, B2_rows, PAL)
side((500, 612, 580, 771), 24, B1_rows, PAL, ORDB, 609, flip=True)
side((1213, 612, 1286, 771), 10, B2_rows, PAL, ORDB, 609)
rowtext(r1, ['%d%%' % v for v in B_pct1], 605, 7.6, 'right')
rowtext(r2, B1_genes, 929, 7.4, 'right', True)
rowtext(r2, ['%d%%' % v for v in B_pct2], 1187, 7.6, 'left')
ids(r1, B1_ids, 776, 5.7); ids(r2, B2_ids, 776, 5.7)
annot((609, 826, 891, 915), 37, B1_ann, None, 0)
annot((932, 826, 1186, 915), 17, B2_ann, 1189, 7)
F3 = 6.7
lg('', 0, 0, 577, 586, [927, 938, 948, 959, 970], muts('mndxi'), F3)
lg('', 0, 0, 677, 685, [927, 938, 948, 959], muts('sfah'), F3)
Y6 = [940, 951, 962, 972, 983]
lg('CRI.Grade', 790, 926, 801, 809, Y6, CGL, F3)
lg('BMS', 839, 926, 846, 855, Y6, lv('BMS', ('n', 'No'), ('y', 'Yes')), F3)
lg('BMS.Grade', 873, 926, 882, 889, Y6, BGL, F3)
second_row([(944, 951, 960), (1007, 1014, 1022), (1031, 1040, 1047), (1057, 1067, 1075), (1087, 1095, 1103), (1137, 1145, 1153), (1183, 1192, 1199)], 926, Y6, F3)

# ---------- panel C ----------
forest((62, 0, 200, 41.3), C_genes, F2_a, F2_b, F2_or, F2_p, F2_val, F2_lo, F2_hi, 1062, 39.1, 1035,
       'BMS:Yes (n = 20) v/s BMS:No (n = 34)', 'BMS:Yes', 'BMS:No', 55, 235, 298, 353, 408, 464, 1432, False)
T(65, 1498, 'Odds ratio with 95% CI\n(1 = no effect, < 1 BMS:Yes has more mutants)', 6.2, va='center', color='#333333', linespacing=1.3)
r1 = (621, 1102, 883, 1270); r2 = (929, 1102, 1191, 1270)
T(784, 1033, 'BMS:Yes (n=20)', 7.6, ha='center', weight='bold')
T(1093, 1033, 'BMS:No (n=34)', 7.6, ha='center', weight='bold')
tmb((621, 1048, 883, 1098), 36, C1_low, C1_mis, C1_amp, C1_del, C1_spl, PAL, 617, 598)
tmb((929, 1048, 1191, 1098), 32, C2_low, C2_mis, C2_amp, C2_del, C2_spl, PAL, 925, 1041)
matrix(r1, 20, C1_rows, PAL); matrix(r2, 34, C2_rows, PAL)
side((512, 1102, 587, 1270), 15, C1_rows, PAL, 'smndifxaehc', 1099, flip=True)
side((1218, 1102, 1293, 1270), 16, C2_rows, PAL, 'mfdxiacehn', 1099)
rowtext(r1, ['%d%%' % v for v in C_pct1], 618, 7.6, 'right')
rowtext(r2, C_genes, 926, 7.4, 'right', True)
rowtext(r2, ['%d%%' % v for v in C_pct2], 1192, 7.6, 'left')
ids(r1, C1_ids, 1273, 6); ids(r2, C2_ids, 1273, 6)
annot((621, 1327, 883, 1421), 20, C1_ann, None, 0)
annot((929, 1327, 1191, 1421), 34, C2_ann, 1195, 7)
F4 = 6.9
lg('', 0, 0, 587, 595, [1433, 1444, 1455, 1467, 1478, 1490, 1501], muts('smndifx'), F4)
lg('', 0, 0, 690, 699, [1433, 1444, 1455, 1467], muts('aehc'), F4)
Y7 = [1447, 1458, 1470, 1481, 1493]
lg('BMS.Grade', 805, 1432, 813, 822, Y7, BGL, F4)
lg('CRI', 870, 1432, 877, 886, Y7, lv('CRI', ('N', 'No'), ('Y', 'Yes')), F4)
lg('CRI.Grade', 905, 1432, 917, 925, Y7, CGL, F4)
second_row([(956, 964, 973), (1020, 1028, 1037), (1046, 1055, 1063), (1073, 1083, 1090), (1103, 1111, 1119), (1154, 1163, 1171), (1202, 1211, 1219)], 1432, Y7, F4)

# ---------- panel D ----------
r = (85, 1631, 418, 1902)
T(293, 1543, 'Altered in 37 (100%) of 37 samples.', 7.8, ha='center', weight='bold')
tmb((85, 1559, 418, 1625), 32, D1_low, D1_mis, D1_amp, D1_del, D1_spl, PAL, 81, 62)
matrix(r, 37, D1_rows, PAL, .6)
side((448, 1631, 542, 1902), 24, D1_rows, PAL, 'mnfdigsxaehc', 1627, fs=6)
rowtext(r, D1_genes, 82, 6.6, 'right', True)
rowtext(r, ['%d%%' % v for v in D1_pct], 420, 6.6, 'left')
annot((85, 1907, 418, 1929), 37, D1_ann, 422, 7.5, {'CRI': S3})
F5 = 7
lg('', 0, 0, 49, 59, [1942, 1953, 1964, 1975, 1986, 1997, 2007], muts('mnfdigs'), F5)
lg('', 0, 0, 155, 164, [1942, 1953, 1964, 1975, 1986, 1997], muts('xpaehc'), F5)
lg('CRI', 276, 1941, 284, 293, [1955, 1966, 1978], [(S3['r'], 'I'), (S3['g'], 'II'), (S3['b'], 'III')], F5)

r = (618, 1637, 946, 1930)
T(823, 1544, 'Altered in 20 (100%) of 20 samples.', 7.8, ha='center', weight='bold')
tmb((618, 1560, 946, 1632), 36, D2_low, D2_mis, D2_amp, D2_del, D2_spl, PAL, 614, 594)
matrix(r, 20, D2_rows, PAL, .5)
side((975, 1637, 1067, 1930), 15, D2_rows, PAL, 'msinfgdaehc', 1634, fs=6)
rowtext(r, D2_genes, 615, 7, 'right', True)
rowtext(r, ['%d%%' % v for v in D2_pct], 947, 7, 'left')
annot((618, 1934, 946, 1959), 20, D2_ann, 950, 7.5, {'BMS': S3})
lg('', 0, 0, 583, 592, [1972, 1984, 1996, 2008, 2019, 2031], muts('msinfg'), F5)
lg('', 0, 0, 686, 695, [1972, 1984, 1996, 2008, 2019], muts('daehc'), F5)
lg('BMS', 805, 1972, 813, 822, [1987, 1999, 2011, 2022], [(S3['b'], 'I'), (S3['r'], 'II'), (S3['g'], 'III'), (S3['p'], 'IV')], F5)

fig.savefig('out.png', dpi=100, facecolor='white')
